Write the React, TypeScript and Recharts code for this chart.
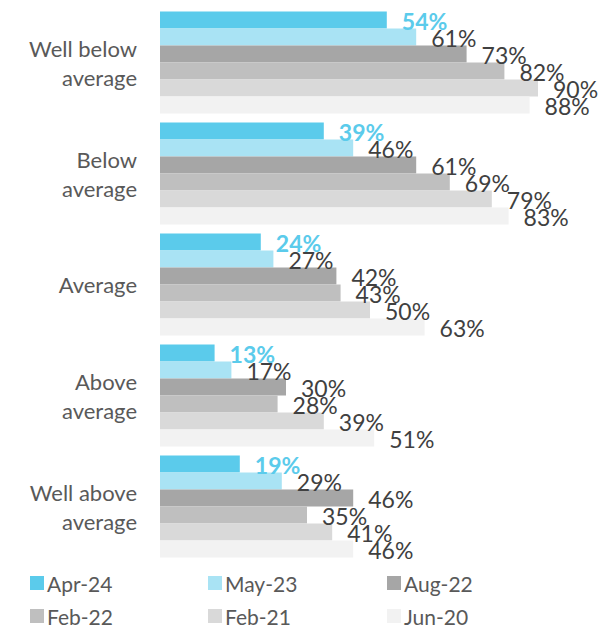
import { BarChart, Bar, XAxis, YAxis, LabelList, Legend } from 'recharts'

const categories = ['Well below average', 'Below average', 'Average', 'Above average', 'Well above average']
const apr24 = [54, 39, 24, 13, 19]
const may23 = [61, 46, 27, 17, 29]
const aug22 = [73, 61, 42, 30, 46]
const feb22 = [82, 69, 43, 28, 35]
const feb21 = [90, 79, 50, 39, 41]
const jun20 = [88, 83, 63, 51, 46]

const series = [
  { key: 'Apr-24', values: apr24, color: '#5BCBEB' },
  { key: 'May-23', values: may23, color: '#A9E3F4' },
  { key: 'Aug-22', values: aug22, color: '#A6A6A6' },
  { key: 'Feb-22', values: feb22, color: '#BFBFBF' },
  { key: 'Feb-21', values: feb21, color: '#D9D9D9' },
  { key: 'Jun-20', values: jun20, color: '#F2F2F2' },
]

const data = categories.map((name, i) => {
  const row: any = { name }
  series.forEach((s) => (row[s.key] = s.values[i]))
  return row
})

const FONT = 'Lato, "Open Sans", sans-serif'

const lineBreaks: Record<string, string[]> = {
  'Well below average': ['Well below', 'average'],
  'Below average': ['Below', 'average'],
  'Average': ['Average'],
  'Above average': ['Above', 'average'],
  'Well above average': ['Well above', 'average'],
}

function CategoryTick({ y, payload }: any) {
  const lines = lineBreaks[payload.value] || [payload.value]
  const lh = 29
  const start = y - ((lines.length - 1) * lh) / 2
  return (
    <text x={137} y={start} textAnchor="end" fill="#595959" fontSize={22} fontFamily={FONT}>
      {lines.map((l, i) => (
        <tspan key={i} x={137} y={start + i * lh} dominantBaseline="central">
          {l}
        </tspan>
      ))}
    </text>
  )
}

function makeLabel(highlight: boolean) {
  return function ValueLabel({ x, y, width, height, value }: any) {
    return (
      <text
        x={x + width + 15}
        y={y + height / 2 + 1}
        dominantBaseline="central"
        fontSize={23}
        fontFamily={FONT}
        fontWeight={highlight ? 700 : 400}
        fill={highlight ? '#5BCBEB' : '#404040'}
      >
        {value}%
      </text>
    )
  }
}

function LegendGrid() {
  const cols = [30, 208, 387]
  const rows = [0, 33]
  return (
    <div style={{ position: 'relative', width: 613, height: 53, fontFamily: FONT }}>
      {series.map((s, i) => (
        <div
          key={s.key}
          style={{
            position: 'absolute',
            left: cols[i % 3],
            top: rows[Math.floor(i / 3)],
            display: 'flex',
            alignItems: 'center',
            height: 20,
          }}
        >
          <span style={{ width: 14, height: 14, background: s.color, display: 'inline-block', marginRight: 3 }} />
          <span style={{ fontSize: 21, lineHeight: 1, color: '#595959' }}>{s.key}</span>
        </div>
      ))}
    </div>
  )
}

export default function App() {
  return (
    <div style={{ position: 'absolute', left: 0, top: 0, width: 613, height: 626, background: '#fff', overflow: 'hidden' }}>
      <BarChart
        width={613}
        height={626}
        data={data}
        layout="vertical"
        barCategoryGap={4.5}
        barGap={0}
        margin={{ top: 7, right: 33, left: 0, bottom: 11 }}
      >
        <XAxis type="number" domain={[0, 100]} hide />
        <YAxis
          type="category"
          dataKey="name"
          width={160}
          axisLine={false}
          tickLine={false}
          tick={<CategoryTick />}
        />
        <Legend
          verticalAlign="bottom"
          wrapperStyle={{ left: 0, top: 573, width: 613, height: 53 }}
          content={<LegendGrid />}
        />
        {series.map((s, i) => (
          <Bar key={s.key} dataKey={s.key} fill={s.color} isAnimationActive={false}>
            <LabelList dataKey={s.key} content={makeLabel(i === 0)} />
          </Bar>
        ))}
      </BarChart>
    </div>
  )
}
